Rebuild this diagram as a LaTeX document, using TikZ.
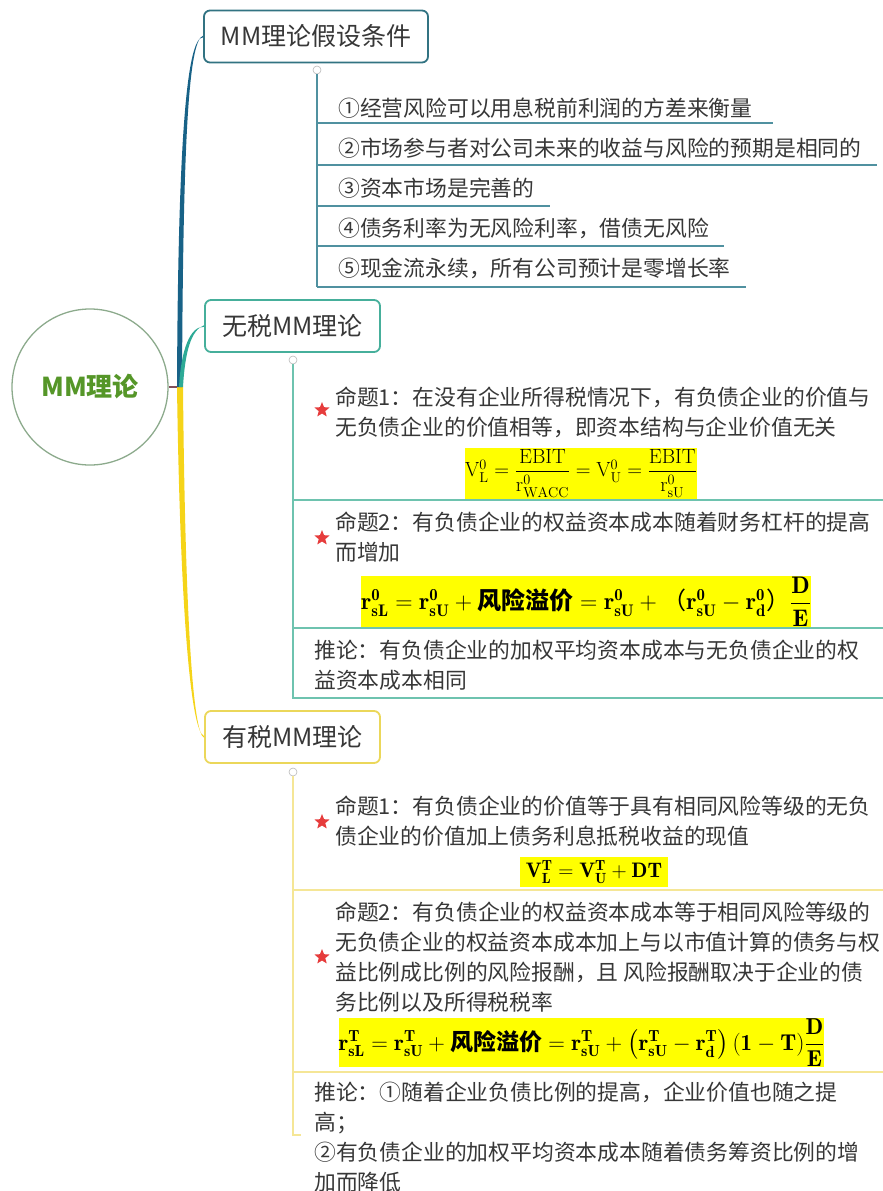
\RequirePackage{fix-cm}
\documentclass[tikz,border=0pt]{standalone}
\usepackage{fontspec}
\usepackage{amsmath}
\usepackage{tikz}
\usetikzlibrary{shapes.geometric}
\newfontfamily\cjk{Noto Sans CJK SC}
\definecolor{ink}{RGB}{55,55,55}
\definecolor{rootLine}{RGB}{140,170,140}
\definecolor{rootGreen}{RGB}{85,150,40}
\definecolor{hubLine}{RGB}{130,80,90}
\definecolor{branchA}{RGB}{24,98,135}
\definecolor{branchB}{RGB}{45,170,150}
\definecolor{branchC}{RGB}{245,212,25}
\definecolor{topicA}{RGB}{50,115,130}
\definecolor{topicB}{RGB}{70,175,155}
\definecolor{topicC}{RGB}{235,215,90}
\definecolor{lineA}{RGB}{80,145,160}
\definecolor{lineB}{RGB}{110,195,175}
\definecolor{lineC}{RGB}{245,230,150}
\definecolor{hlYellow}{RGB}{255,255,0}
\definecolor{starRed}{RGB}{230,60,60}
\newcommand{\mmr}[2]{\mathbf{r}^{\mathbf{#1}}_{\mathbf{#2}}}
\newcommand{\mmv}[2]{\mathbf{V}^{\mathbf{#1}}_{\mathbf{#2}}}
\newcommand{\bodysize}{\fontsize{21.8}{30}\selectfont}

\begin{document}
\begin{tikzpicture}[x=1pt,y=-1pt,
  root/.style={circle,draw=rootLine,line width=1.3pt,minimum size=156pt,inner sep=0,font=\cjk\bfseries\fontsize{26}{30}\selectfont,text=rootGreen},
  topic/.style={rounded corners=6pt,line width=1.8pt,fill=white,minimum height=52pt,inner sep=0,font=\cjk\fontsize{25}{30}\selectfont,text=ink},
  fold/.style={circle,draw=gray!55,fill=white,minimum size=8pt,inner sep=0,line width=0.6pt},
  item/.style={anchor=base west,inner sep=0,font=\cjk\bodysize,text=ink},
  prop/.style={anchor=west,inner sep=0,align=left,font=\cjk\bodysize,text=ink},
  redstar/.style={shape=star,star points=5,star point ratio=2.3,fill=starRed,inner sep=0,minimum size=16pt},
  hl/.style={fill=hlYellow,inner sep=0},
  rulea/.style={draw=lineA,line width=1.4pt},
  ruleb/.style={draw=lineB,line width=1.4pt},
  rulec/.style={draw=lineC,line width=1.4pt}]
\useasboundingbox (0,0) rectangle (883,1191);
% root and topics
\node[root] (mm) at (90,387) {MM理论};
\coordinate (hub) at (180,387);
\node[topic,draw=topicA,minimum width=224pt] (t1) at (316,36.5) {MM理论假设条件};
\node[topic,draw=topicB,minimum width=175pt] (t2) at (292.5,326) {无税MM理论};
\node[topic,draw=topicC,minimum width=175pt] (t3) at (292.5,737) {有税MM理论};
\draw[hubLine,line width=1.2pt] (mm.east) -- (hub);
% branches
\fill[branchC] ([xshift=-3pt]hub) .. controls (180,600) and (190,731) .. ([yshift=0.8pt]t3.west)
  -- ([yshift=-0.8pt]t3.west) .. controls (192,733) and (185,600) .. ([xshift=3pt]hub) -- cycle;
\fill[branchA] ([xshift=-3pt]hub) .. controls (178,150) and (186,37) .. ([yshift=-0.8pt]t1.west)
  -- ([yshift=0.8pt]t1.west) .. controls (188,40) and (183,150) .. ([xshift=2pt]hub) -- cycle;
\fill[branchB] ([xshift=-1pt]hub) .. controls (181,350) and (190,326) .. ([yshift=-0.8pt]t2.west)
  -- ([yshift=0.8pt]t2.west) .. controls (191,330) and (185,352) .. ([xshift=3pt]hub) -- cycle;
% assumptions
\node[fold] (f1) at (317,70) {};
\draw[rulea] (f1.south) -- (317,287);
\node[item] (c1) at (338,116) {①经营风险可以用息税前利润的方差来衡量};
\node[item] (c2) at (338,156) {②市场参与者对公司未来的收益与风险的预期是相同的};
\node[item] (c3) at (338,196) {③资本市场是完善的};
\node[item] (c4) at (338,236) {④债务利率为无风险利率，借债无风险};
\node[item] (c5) at (338,276) {⑤现金流永续，所有公司预计是零增长率};
\draw[rulea] (317,123) -- (c1.east |- 0,123) -- ++(20,0);
\draw[rulea] (317,165) -- (c2.east |- 0,165) -- ++(15,0);
\draw[rulea] (317,206) -- (c3.east |- 0,206) -- ++(15,0);
\draw[rulea] (317,246) -- (c4.east |- 0,246) -- ++(15,0);
\draw[rulea] (317,287) -- (c5.east |- 0,287) -- ++(15,0);
% no tax
\node[fold] (f2) at (293,360) {};
\draw[ruleb] (f2.south) -- (293,698) -- (883,698);
\draw[ruleb] (293,500) -- (883,500);
\draw[ruleb] (293,628) -- (883,628);
\node[redstar] (s1) at (322,410) {};
\node[prop] (p1) at (335,412) {命题1：在没有企业所得税情况下，有负债企业的价值与\\无负债企业的价值相等，即资本结构与企业价值无关};
\node[hl,minimum width=218pt,minimum height=51pt] (e1) at (581,473.5)
  {\fontsize{20.5}{24}\selectfont$\mathrm{V}^0_{\mathrm{L}}=\dfrac{\mathrm{EBIT}}{\mathrm{r}^0_{\mathrm{WACC}}}=\mathrm{V}^0_{\mathrm{U}}=\dfrac{\mathrm{EBIT}}{\mathrm{r}^0_{\mathrm{sU}}}$};
\node[redstar] (s2) at (322,538) {};
\node[prop] (p2) at (335,537) {命题2：有负债企业的权益资本成本随着财务杠杆的提高\\而增加};
\node[hl,minimum width=446pt,minimum height=51pt] (e2) at (586,601.5)
  {\fontsize{24}{28}\selectfont$\mmr{0}{sL}=\mmr{0}{sU}+{}${\cjk\bfseries 风险溢价}${}=\mmr{0}{sU}+{}${\cjk （}$\mmr{0}{sU}-\mmr{0}{d}${\cjk ）}$\dfrac{\mathbf{D}}{\mathbf{E}}$};
\node[prop] (q1) at (314,665) {推论：有负债企业的加权平均资本成本与无负债企业的权\\益资本成本相同};
% with tax
\node[fold] (f3) at (293,772) {};
\draw[rulec] (f3.south) -- (293,1135) -- (301,1135);
\draw[rulec] (293,890) -- (883,890);
\draw[rulec] (293,1072) -- (883,1072);
\node[redstar] (s3) at (322,822) {};
\node[prop] (p3) at (335,821) {命题1：有负债企业的价值等于具有相同风险等级的无负\\债企业的价值加上债务利息抵税收益的现值};
\node[hl,minimum width=148pt,minimum height=30pt] (e3) at (594,872)
  {\fontsize{21}{24}\selectfont$\mmv{T}{L}=\mmv{T}{U}+\mathbf{DT}$};
\node[redstar] (s4) at (322,957) {};
\node[prop] (p4) at (335,957) {命题2：有负债企业的权益资本成本等于相同风险等级的\\无负债企业的权益资本成本加上与以市值计算的债务与权\\益比例成比例的风险报酬，且 风险报酬取决于企业的债\\务比例以及所得税税率};
\node[hl,minimum width=477pt,minimum height=49pt] (e4) at (581.5,1042.5)
  {\fontsize{23}{26}\selectfont$\mmr{T}{sL}=\mmr{T}{sU}+{}${\cjk\bfseries 风险溢价}${}=\mmr{T}{sU}+\left(\mmr{T}{sU}-\mmr{T}{d}\right)(\mathbf{1}-\mathbf{T})\dfrac{\mathbf{D}}{\mathbf{E}}$};
\node[prop] (q2) at (314,1137) {推论：①随着企业负债比例的提高，企业价值也随之提\\高；\\②有负债企业的加权平均资本成本随着债务筹资比例的增\\加而降低};
\end{tikzpicture}
\end{document}
